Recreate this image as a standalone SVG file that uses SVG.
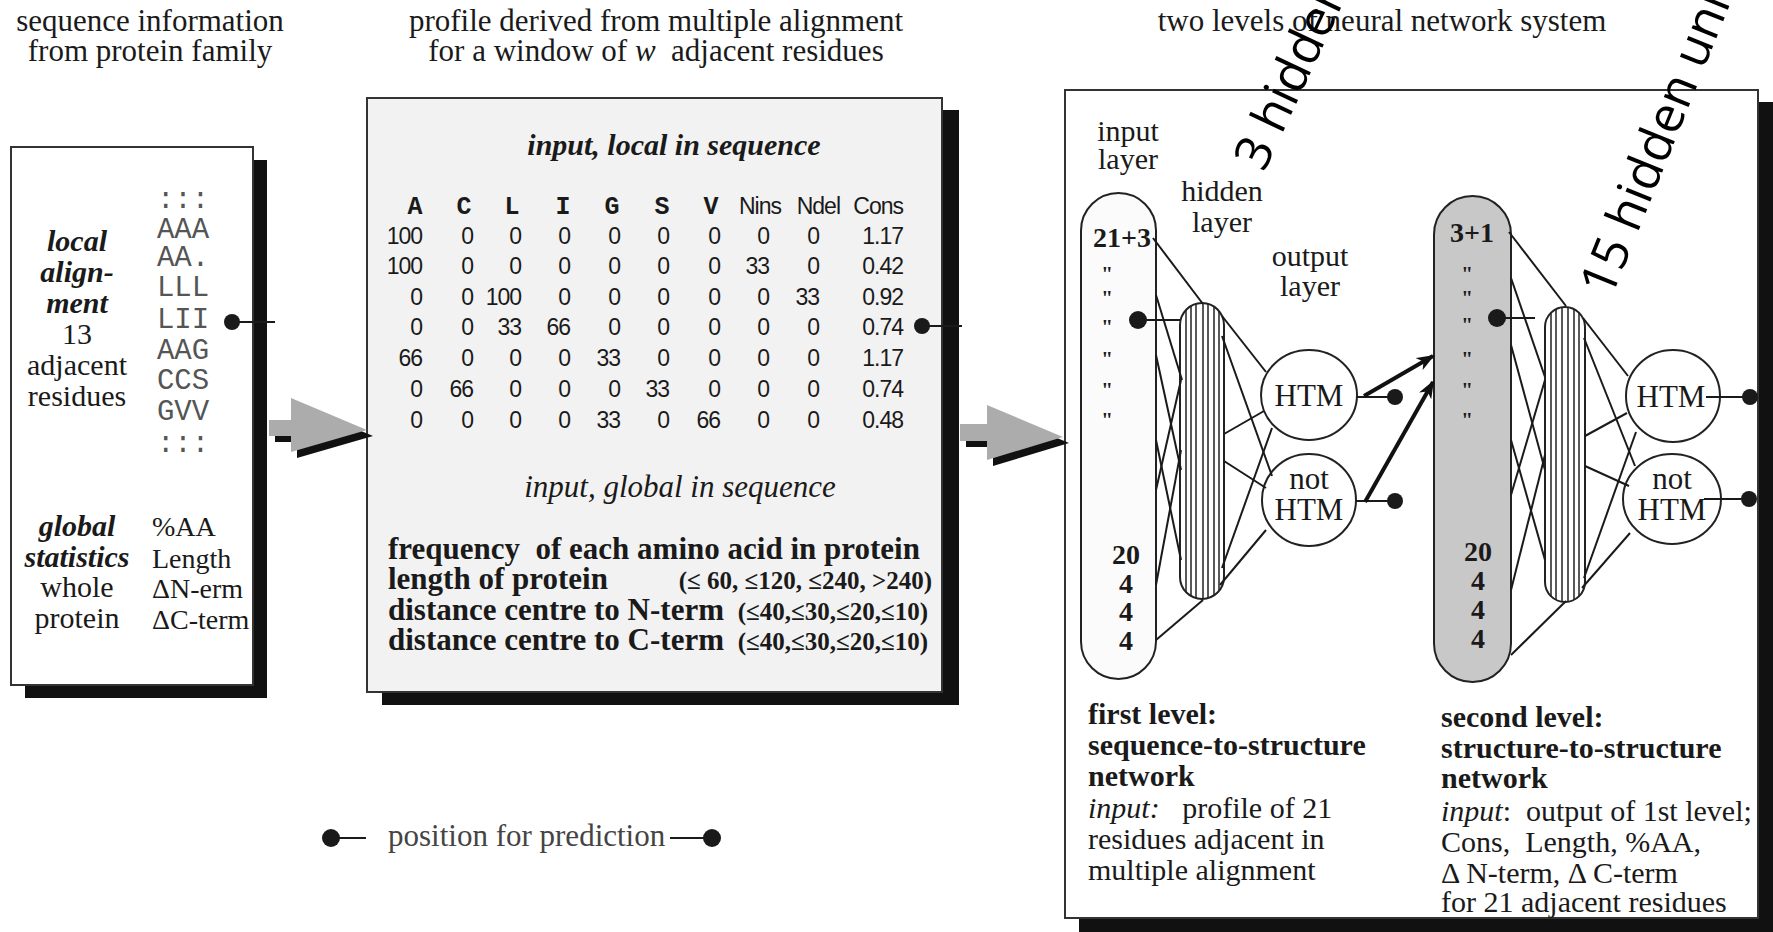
<svg xmlns="http://www.w3.org/2000/svg" width="1773" height="932" viewBox="0 0 1773 932">
<defs>
<style>
text{font-family:"Liberation Serif","Times New Roman",serif;fill:#1a1a1a;font-size:30px}
.ttl{font-size:31px}
.c{text-anchor:middle}
.e{text-anchor:end}
.b{font-weight:bold}
.i{font-style:italic}
.big{font-size:31px}
.mono{font-family:"Liberation Mono","Courier New",monospace;font-size:29px;fill:#555}
.num{font-family:"Liberation Sans",Arial,sans-serif;font-size:23px;text-anchor:end;letter-spacing:-1px}
.hdr{font-family:"Liberation Mono","Courier New",monospace;font-size:25px;text-anchor:middle;font-weight:bold}
.hds{font-family:"Liberation Sans",Arial,sans-serif;font-size:23px;text-anchor:end;letter-spacing:-1px}
.par{font-size:25px;font-weight:bold;text-anchor:end}
.frame{fill:#fff;stroke:#333;stroke-width:2}
.shadow{fill:#111}
.ln{stroke:#1a1a1a;stroke-width:2;fill:none}
.thick{stroke:#111;stroke-width:4;fill:none}
.dot{fill:#1a1a1a}
.blk{fill:#acacac}
.q{font-size:21px;font-weight:bold}
.rot{font-family:"Open Sans","DejaVu Sans",sans-serif;font-size:50px;fill:#000}
.stripe{stroke:#222;stroke-width:1.5}
</style>
<marker id="ah" markerUnits="userSpaceOnUse" markerWidth="20" markerHeight="14" refX="16" refY="7" orient="auto">
<path d="M0,0 L18,7 L0,14 L5,7 z" fill="#111"/>
</marker>
<clipPath id="hc1"><rect x="1180" y="303" width="44" height="296" rx="22"/></clipPath>
<clipPath id="hc2"><rect x="1545" y="307" width="40" height="295" rx="20"/></clipPath>
</defs>

<g id="titles">
<text class="c ttl" x="150" y="31">sequence information</text>
<text class="c ttl" x="150" y="61">from protein family</text>
<text class="c ttl" x="656" y="31">profile derived from multiple alignment</text>
<text class="c ttl" x="656" y="61" xml:space="preserve">for a window of <tspan class="i">w</tspan>  adjacent residues</text>
<text class="c ttl" x="1382" y="31">two levels of neural network system</text>
</g>

<g id="box-sequence">
<rect class="shadow" x="25" y="160" width="242" height="538"/>
<rect class="frame" x="11" y="147" width="242" height="538"/>
<text class="c b i" x="77" y="251">local</text>
<text class="c b i" x="77" y="282">align-</text>
<text class="c b i" x="77" y="313">ment</text>
<text class="c" x="77" y="344">13</text>
<text class="c" x="77" y="375">adjacent</text>
<text class="c" x="77" y="406">residues</text>
<text class="mono c" x="183" y="208">:::</text>
<text class="mono c" x="183" y="238">AAA</text>
<text class="mono c" x="183" y="266">AA.</text>
<text class="mono c" x="183" y="296">LLL</text>
<text class="mono c" x="183" y="328">LII</text>
<text class="mono c" x="183" y="359">AAG</text>
<text class="mono c" x="183" y="389">CCS</text>
<text class="mono c" x="183" y="420">GVV</text>
<text class="mono c" x="183" y="452">:::</text>
<text class="c b i" x="77" y="536">global</text>
<text class="c b i" x="77" y="567">statistics</text>
<text class="c" x="77" y="597">whole</text>
<text class="c" x="77" y="628">protein</text>
<text x="152" y="536" style="font-size:28px">%AA</text>
<text x="152" y="568" style="font-size:28px">Length</text>
<text x="152" y="598" style="font-size:28px">ΔN-erm</text>
<text x="152" y="629" style="font-size:28px">ΔC-term</text>
<circle class="dot" cx="232" cy="322" r="8"/>
<line class="ln" x1="232" y1="322" x2="275" y2="322"/>
</g>

<g id="box-profile">
<rect class="shadow" x="382" y="110" width="577" height="595"/>
<rect class="frame" x="367" y="98" width="575" height="594" style="fill:#f2f2f2"/>
<text class="c b i" x="674" y="155">input, local in sequence</text>
<g id="table-header">
<text class="hdr" x="415" y="214">A</text>
<text class="hdr" x="464" y="214">C</text>
<text class="hdr" x="512" y="214">L</text>
<text class="hdr" x="563" y="214">I</text>
<text class="hdr" x="612" y="214">G</text>
<text class="hdr" x="662" y="214">S</text>
<text class="hdr" x="711" y="214">V</text>
<text class="hds" x="781" y="214">Nins</text>
<text class="hds" x="840" y="214">Ndel</text>
<text class="hds" x="903" y="214">Cons</text>
</g>
<g id="table-rows">
<text class="num" x="422" y="244">100</text><text class="num" x="473" y="244">0</text><text class="num" x="521" y="244">0</text><text class="num" x="570" y="244">0</text><text class="num" x="620" y="244">0</text><text class="num" x="669" y="244">0</text><text class="num" x="720" y="244">0</text><text class="num" x="769" y="244">0</text><text class="num" x="819" y="244">0</text><text class="num" x="903" y="244">1.17</text>
<text class="num" x="422" y="274">100</text><text class="num" x="473" y="274">0</text><text class="num" x="521" y="274">0</text><text class="num" x="570" y="274">0</text><text class="num" x="620" y="274">0</text><text class="num" x="669" y="274">0</text><text class="num" x="720" y="274">0</text><text class="num" x="769" y="274">33</text><text class="num" x="819" y="274">0</text><text class="num" x="903" y="274">0.42</text>
<text class="num" x="422" y="305">0</text><text class="num" x="473" y="305">0</text><text class="num" x="521" y="305">100</text><text class="num" x="570" y="305">0</text><text class="num" x="620" y="305">0</text><text class="num" x="669" y="305">0</text><text class="num" x="720" y="305">0</text><text class="num" x="769" y="305">0</text><text class="num" x="819" y="305">33</text><text class="num" x="903" y="305">0.92</text>
<text class="num" x="422" y="335">0</text><text class="num" x="473" y="335">0</text><text class="num" x="521" y="335">33</text><text class="num" x="570" y="335">66</text><text class="num" x="620" y="335">0</text><text class="num" x="669" y="335">0</text><text class="num" x="720" y="335">0</text><text class="num" x="769" y="335">0</text><text class="num" x="819" y="335">0</text><text class="num" x="903" y="335">0.74</text>
<text class="num" x="422" y="366">66</text><text class="num" x="473" y="366">0</text><text class="num" x="521" y="366">0</text><text class="num" x="570" y="366">0</text><text class="num" x="620" y="366">33</text><text class="num" x="669" y="366">0</text><text class="num" x="720" y="366">0</text><text class="num" x="769" y="366">0</text><text class="num" x="819" y="366">0</text><text class="num" x="903" y="366">1.17</text>
<text class="num" x="422" y="397">0</text><text class="num" x="473" y="397">66</text><text class="num" x="521" y="397">0</text><text class="num" x="570" y="397">0</text><text class="num" x="620" y="397">0</text><text class="num" x="669" y="397">33</text><text class="num" x="720" y="397">0</text><text class="num" x="769" y="397">0</text><text class="num" x="819" y="397">0</text><text class="num" x="903" y="397">0.74</text>
<text class="num" x="422" y="428">0</text><text class="num" x="473" y="428">0</text><text class="num" x="521" y="428">0</text><text class="num" x="570" y="428">0</text><text class="num" x="620" y="428">33</text><text class="num" x="669" y="428">0</text><text class="num" x="720" y="428">66</text><text class="num" x="769" y="428">0</text><text class="num" x="819" y="428">0</text><text class="num" x="903" y="428">0.48</text>
</g>
<circle class="dot" cx="922" cy="326" r="8"/>
<line class="ln" x1="922" y1="326" x2="962" y2="326"/>
<text class="c i" x="680" y="497" style="font-size:31px">input, global in sequence</text>
<text class="b big" x="388" y="559" xml:space="preserve">frequency  of each amino acid in protein</text>
<text class="b big" x="388" y="589">length of protein</text>
<text class="par" x="932" y="589">(≤ 60, ≤120, ≤240, &gt;240)</text>
<text class="b big" x="388" y="620">distance centre to N-term</text>
<text class="par" x="928" y="620">(≤40,≤30,≤20,≤10)</text>
<text class="b big" x="388" y="650">distance centre to C-term</text>
<text class="par" x="928" y="650">(≤40,≤30,≤20,≤10)</text>
</g>

<g id="box-network">
<rect class="shadow" x="1079" y="102" width="694" height="830"/>
<rect class="frame" x="1065" y="90" width="693" height="828"/>
<text class="c" x="1128" y="141">input</text>
<text class="c" x="1128" y="169">layer</text>
<text class="c" x="1222" y="201">hidden</text>
<text class="c" x="1222" y="232">layer</text>
<text class="c" x="1310" y="266">output</text>
<text class="c" x="1310" y="296">layer</text>
<text class="b" x="1088" y="724">first level:</text>
<text class="b" x="1088" y="755">sequence-to-structure</text>
<text class="b" x="1088" y="786">network</text>
<text x="1088" y="818" xml:space="preserve"><tspan class="i">input:</tspan>   profile of 21</text>
<text x="1088" y="849">residues adjacent in</text>
<text x="1088" y="880">multiple alignment</text>
<text class="b" x="1441" y="727">second level:</text>
<text class="b" x="1441" y="758">structure-to-structure</text>
<text class="b" x="1441" y="788">network</text>
<text x="1441" y="821" xml:space="preserve"><tspan class="i">input</tspan>:  output of 1st level;</text>
<text x="1441" y="852" xml:space="preserve">Cons,  Length, %AA,</text>
<text x="1441" y="883">Δ N-term, Δ C-term</text>
<text x="1441" y="912">for 21 adjacent residues</text>
</g>

<g id="net1-input">
<rect x="1081" y="193" width="75" height="486" rx="37.5" fill="#fbfbfb" stroke="#222" stroke-width="2"/>
<text class="c b" x="1122" y="247" style="font-size:28px">21+3</text>
<text class="c q" x="1107" y="281">"</text>
<text class="c q" x="1107" y="305">"</text>
<text class="c q" x="1107" y="334">"</text>
<text class="c q" x="1107" y="366">"</text>
<text class="c q" x="1107" y="397">"</text>
<text class="c q" x="1107" y="427">"</text>
<text class="c b" x="1126" y="564" style="font-size:28px">20</text>
<text class="c b" x="1126" y="593" style="font-size:28px">4</text>
<text class="c b" x="1126" y="621" style="font-size:28px">4</text>
<text class="c b" x="1126" y="650" style="font-size:28px">4</text>
<circle class="dot" cx="1138" cy="320" r="9"/>
</g>
<g id="net1-hidden">
<rect x="1180" y="303" width="44" height="296" rx="22" fill="#fff"/>
<g clip-path="url(#hc1)">
<line class="stripe" x1="1186" y1="300" x2="1186" y2="600"/>
<line class="stripe" x1="1191" y1="300" x2="1191" y2="600"/>
<line class="stripe" x1="1196" y1="300" x2="1196" y2="600"/>
<line class="stripe" x1="1203" y1="300" x2="1203" y2="600"/>
<line class="stripe" x1="1208" y1="300" x2="1208" y2="600"/>
<line class="stripe" x1="1214" y1="300" x2="1214" y2="600"/>
<line class="stripe" x1="1219" y1="300" x2="1219" y2="600"/>
</g>
<rect x="1180" y="303" width="44" height="296" rx="22" fill="none" stroke="#222" stroke-width="2"/>
</g>
<g id="net1-htm">
<ellipse cx="1309" cy="395" rx="48" ry="45" fill="#fff" stroke="#222" stroke-width="2"/>
<text class="c" x="1309" y="406" style="font-size:31px">HTM</text>
</g>
<g id="net1-nothtm">
<ellipse cx="1309" cy="500" rx="47" ry="46" fill="#fff" stroke="#222" stroke-width="2"/>
<text class="c" x="1309" y="489" style="font-size:31px">not</text>
<text class="c" x="1309" y="520" style="font-size:31px">HTM</text>
</g>

<g id="net2-input">
<rect x="1434" y="196" width="77" height="486" rx="38.5" fill="#c8c8c8" stroke="#222" stroke-width="2"/>
<text class="c b" x="1472" y="242" style="font-size:28px">3+1</text>
<text class="c q" x="1467" y="281">"</text>
<text class="c q" x="1467" y="305">"</text>
<text class="c q" x="1467" y="332">"</text>
<text class="c q" x="1467" y="366">"</text>
<text class="c q" x="1467" y="397">"</text>
<text class="c q" x="1467" y="427">"</text>
<text class="c b" x="1478" y="561" style="font-size:28px">20</text>
<text class="c b" x="1478" y="590" style="font-size:28px">4</text>
<text class="c b" x="1478" y="619" style="font-size:28px">4</text>
<text class="c b" x="1478" y="648" style="font-size:28px">4</text>
<circle class="dot" cx="1497" cy="318" r="9"/>
</g>
<g id="net2-hidden">
<rect x="1545" y="307" width="40" height="295" rx="20" fill="#fff"/>
<g clip-path="url(#hc2)">
<line class="stripe" x1="1551" y1="300" x2="1551" y2="605"/>
<line class="stripe" x1="1556" y1="300" x2="1556" y2="605"/>
<line class="stripe" x1="1562" y1="300" x2="1562" y2="605"/>
<line class="stripe" x1="1568" y1="300" x2="1568" y2="605"/>
<line class="stripe" x1="1574" y1="300" x2="1574" y2="605"/>
<line class="stripe" x1="1579" y1="300" x2="1579" y2="605"/>
</g>
<rect x="1545" y="307" width="40" height="295" rx="20" fill="none" stroke="#222" stroke-width="2"/>
</g>
<g id="net2-htm">
<ellipse cx="1673" cy="396" rx="47" ry="46" fill="#fff" stroke="#222" stroke-width="2"/>
<text class="c" x="1671" y="407" style="font-size:31px">HTM</text>
</g>
<g id="net2-nothtm">
<ellipse cx="1672" cy="499" rx="49" ry="45" fill="#fff" stroke="#222" stroke-width="2"/>
<text class="c" x="1672" y="489" style="font-size:31px">not</text>
<text class="c" x="1672" y="520" style="font-size:31px">HTM</text>
</g>

<g id="legend">
<circle class="dot" cx="331" cy="838" r="9"/>
<line class="ln" x1="331" y1="838" x2="366" y2="838"/>
<text x="388" y="846" style="fill:#444;font-size:31px">position for prediction</text>
<line class="ln" x1="670" y1="838" x2="711" y2="838"/>
<circle class="dot" cx="712" cy="838" r="9"/>
</g>

<g id="connectors">
<g id="block-arrow-1">
<polygon class="shadow" points="275,426 297,426 297,404 373,436 297,458 297,442 275,442"/>
<polygon class="blk" points="269,420 291,420 291,398 367,430 291,452 291,436 269,436"/>
</g>
<g id="block-arrow-2">
<polygon class="shadow" points="966,430 993,430 993,411 1069,443 993,466 993,447 966,447"/>
<polygon class="blk" points="960,424 987,424 987,405 1063,437 987,460 987,441 960,441"/>
</g>
<g id="net1-lines">
<line class="ln" x1="1138" y1="320" x2="1180" y2="320"/>
<line class="ln" x1="1153" y1="238" x2="1203" y2="304"/>
<line class="ln" x1="1156" y1="295" x2="1182" y2="380"/>
<line class="ln" x1="1156" y1="355" x2="1181" y2="470"/>
<line class="ln" x1="1156" y1="440" x2="1181" y2="560"/>
<line class="ln" x1="1156" y1="490" x2="1181" y2="380"/>
<line class="ln" x1="1156" y1="585" x2="1181" y2="450"/>
<line class="ln" x1="1156" y1="640" x2="1203" y2="600"/>
<line class="ln" x1="1222" y1="316" x2="1266" y2="372"/>
<line class="ln" x1="1222" y1="336" x2="1272" y2="476"/>
<line class="ln" x1="1224" y1="434" x2="1264" y2="411"/>
<line class="ln" x1="1224" y1="461" x2="1266" y2="488"/>
<line class="ln" x1="1222" y1="568" x2="1272" y2="428"/>
<line class="ln" x1="1220" y1="585" x2="1266" y2="530"/>
<line class="ln" x1="1357" y1="397" x2="1395" y2="397"/>
<circle class="dot" cx="1395" cy="397" r="8"/>
<line class="ln" x1="1356" y1="501" x2="1395" y2="501"/>
<circle class="dot" cx="1395" cy="501" r="8"/>
<line class="thick" x1="1364" y1="396" x2="1433" y2="356" marker-end="url(#ah)"/>
<line class="thick" x1="1365" y1="502" x2="1433" y2="382" marker-end="url(#ah)"/>
</g>
<g id="net2-lines">
<line class="ln" x1="1497" y1="318" x2="1535" y2="318"/>
<line class="ln" x1="1509" y1="232" x2="1566" y2="306"/>
<line class="ln" x1="1511" y1="278" x2="1545" y2="377"/>
<line class="ln" x1="1511" y1="345" x2="1545" y2="470"/>
<line class="ln" x1="1511" y1="440" x2="1545" y2="560"/>
<line class="ln" x1="1511" y1="495" x2="1545" y2="380"/>
<line class="ln" x1="1511" y1="590" x2="1545" y2="455"/>
<line class="ln" x1="1511" y1="655" x2="1566" y2="601"/>
<line class="ln" x1="1583" y1="318" x2="1628" y2="376"/>
<line class="ln" x1="1584" y1="338" x2="1635" y2="466"/>
<line class="ln" x1="1585" y1="436" x2="1627" y2="413"/>
<line class="ln" x1="1585" y1="466" x2="1629" y2="486"/>
<line class="ln" x1="1584" y1="578" x2="1636" y2="432"/>
<line class="ln" x1="1582" y1="588" x2="1630" y2="533"/>
<line class="ln" x1="1706" y1="397" x2="1750" y2="397"/>
<circle class="dot" cx="1750" cy="397" r="8"/>
<line class="ln" x1="1704" y1="499" x2="1749" y2="499"/>
<circle class="dot" cx="1749" cy="499" r="8"/>
</g>
</g>

<g id="overlay-labels">
<text class="rot" transform="translate(1264,173) rotate(-65)">3 hidden units</text>
<text class="rot" transform="translate(1611,299) rotate(-68)">15 hidden units</text>
</g>
</svg>
